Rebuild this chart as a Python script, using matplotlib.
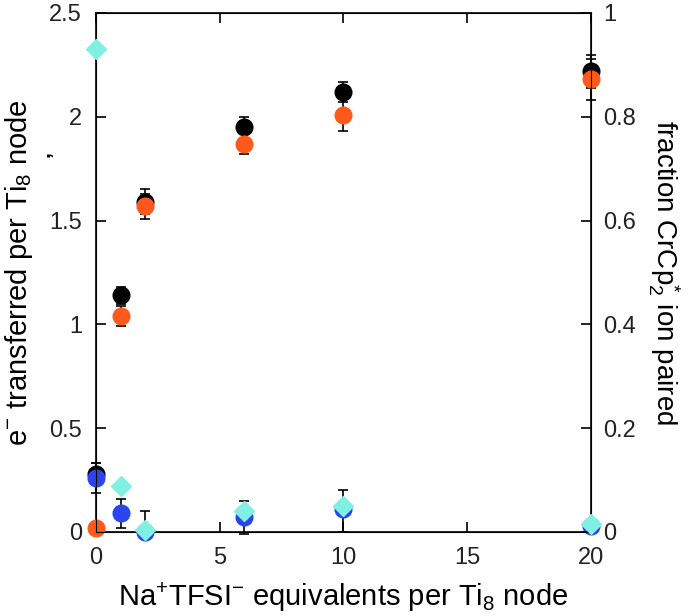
import matplotlib
matplotlib.use("Agg")
import matplotlib.pyplot as plt
from matplotlib.ticker import FuncFormatter

plt.rcParams["font.family"] = ["Liberation Sans", "DejaVu Sans"]
plt.rcParams["mathtext.fontset"] = "custom"
plt.rcParams["mathtext.rm"] = "Liberation Sans"
plt.rcParams["mathtext.it"] = "Liberation Sans"

# Na+TFSI- equivalents per Ti8 node
equiv = [0, 1, 2, 6, 10, 20]

# e- transferred per Ti8 node (left axis)
e_total = [0.28, 1.14, 1.59, 1.95, 2.12, 2.22]
e_total_err = [0.05, 0.04, 0.06, 0.05, 0.05, 0.08]
e_orange = [0.02, 1.04, 1.57, 1.87, 2.01, 2.18]
e_orange_err = [0.0, 0.05, 0.06, 0.05, 0.08, 0.10]
e_blue = [0.26, 0.09, 0.0, 0.07, 0.11, 0.03]
e_blue_lo = [0.07, 0.07, 0.0, 0.08, 0.11, 0.0]
e_blue_hi = [0.07, 0.07, 0.10, 0.08, 0.09, 0.0]

# fraction CrCp*2 ion paired (right axis)
frac_paired = [0.93, 0.088, 0.004, 0.04, 0.05, 0.015]

fig = plt.figure(figsize=(6.88, 6.16), dpi=100)
ax = fig.add_axes([0.1395, 0.1364, 0.7195, 0.8425])

ms = 12
common = dict(fmt="o", markersize=ms, capsize=3.5, elinewidth=1.2, capthick=1.2,
              ecolor="black", clip_on=False)
ax.errorbar(equiv, e_total, yerr=e_total_err, color="black", zorder=3, **common)
ax.errorbar(equiv, e_orange, yerr=e_orange_err, color="#ff5a1c", zorder=4, **common)
ax.errorbar(equiv, e_blue, yerr=[e_blue_lo, e_blue_hi], color="#2b44ee", zorder=5, **common)

ax.set_xlim(0, 20)
ax.set_ylim(0, 2.5)
ax.set_xticks([0, 5, 10, 15, 20])
ax.set_yticks([0, 0.5, 1, 1.5, 2, 2.5])
fmt = FuncFormatter(lambda v, p: f"{v:g}")
ax.yaxis.set_major_formatter(fmt)
ax.tick_params(direction="in", length=7, width=1.2, labelsize=17, top=True,
               right=False, color="black", labelcolor="#222222")
ax.tick_params(axis="x", pad=11)
ax.tick_params(axis="y", pad=10)
for s in ax.spines.values():
    s.set_linewidth(1.2)

ax2 = ax.twinx()
ax2.plot(equiv, frac_paired, "D", color="#80f0e2", markersize=10,
         markeredgecolor="#80f0e2", clip_on=False, zorder=6)
ax2.set_ylim(0, 1)
ax2.set_yticks([0, 0.2, 0.4, 0.6, 0.8, 1])
ax2.yaxis.set_major_formatter(fmt)
ax2.tick_params(direction="in", length=7, width=1.2, labelsize=17, pad=9,
                color="black", labelcolor="#222222")

ax.set_xlabel("Na$^{+}$TFSI$^{-}$ equivalents per Ti$_{8}$ node", fontsize=21, labelpad=8)
ax.set_ylabel("e$^{-}$ transferred per Ti$_{8}$ node", fontsize=21, labelpad=10)
ax2.set_ylabel("fraction CrCp$^{*}_{2}$ ion paired", fontsize=20, rotation=270,
               labelpad=32)

fig.text(44 / 688, 1 - 154 / 616, ",", fontsize=15, fontweight="bold", rotation=90,
         ha="center", va="center")

fig.savefig("out.png", dpi=100)
